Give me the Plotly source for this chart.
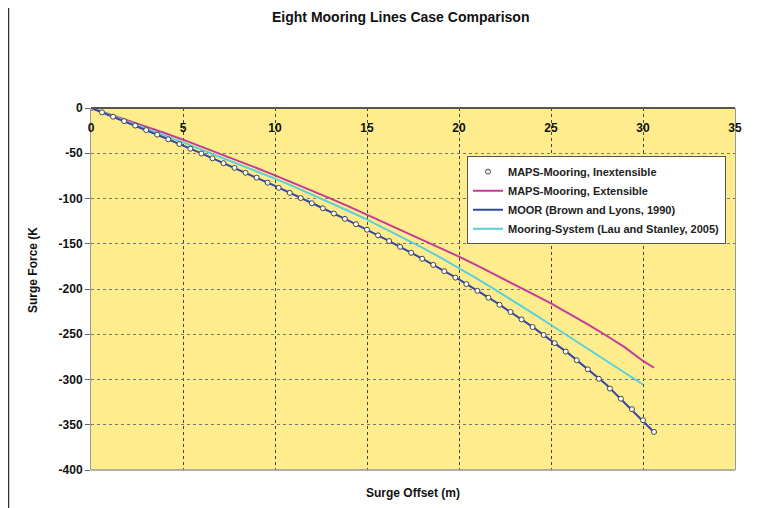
import plotly.graph_objects as go

# ---------------- data ----------------
inext_x = [0, 0.6, 1.2, 1.8, 2.4, 3.0, 3.6, 4.2, 4.8, 5.4, 6.0, 6.6, 7.2, 7.8, 8.4, 9.0, 9.6,
           10.2, 10.8, 11.4, 12.0, 12.6, 13.2, 13.8, 14.4, 15.0, 15.6, 16.2, 16.8, 17.4, 18.0,
           18.6, 19.2, 19.8, 20.4, 21.0, 21.6, 22.2, 22.8, 23.4, 24.0, 24.6, 25.2, 25.8, 26.4,
           27.0, 27.6, 28.2, 28.8, 29.4, 30.0, 30.6]
inext_y = [0, -4.8, -9.6, -14.5, -19.4, -24.4, -29.4, -34.6, -39.8, -45.0, -50.3, -55.6, -61.0,
           -66.2, -71.6, -77.0, -82.5, -88.2, -93.8, -99.5, -105.2, -110.8, -116.6, -122.5,
           -128.4, -134.5, -140.7, -147.0, -153.4, -160.0, -166.6, -173.4, -180.3, -187.4,
           -194.6, -202.0, -209.6, -217.4, -225.4, -233.6, -242.0, -250.8, -259.8, -269.2,
           -278.8, -288.8, -299.2, -310.0, -321.2, -332.8, -345.0, -358.0]

ext_x = [0, 1, 2, 3, 4, 5, 6, 7, 8, 9, 10, 11, 12, 13, 14, 15, 16, 17, 18, 19, 20, 21, 22, 23,
         24, 25, 26, 27, 28, 29, 30, 30.6]
ext_y = [0, -6.8, -13.6, -20.5, -27.6, -35.0, -42.7, -50.5, -58.3, -66.3, -74.5, -82.8, -91.3,
         -99.9, -108.7, -117.8, -126.9, -136.1, -145.3, -154.6, -164.2, -174.2, -184.4, -194.8,
         -205.3, -216.0, -227.2, -239.0, -251.4, -264.2, -279.5, -287.0]

moor_x = [0, 2, 4, 6, 8, 10, 12, 14, 16, 18, 20, 22, 24, 26, 28, 30, 30.6]
moor_y = [0, -16.2, -32.9, -50.2, -67.9, -86.1, -105.0, -124.4, -145.0, -166.4, -189.4,
          -214.6, -241.8, -272.0, -305.5, -345.3, -358.2]

lau_x = [0, 1, 2, 3, 4, 5, 6, 7, 8, 9, 10, 11, 12, 13, 14, 15, 16, 17, 18, 19, 20, 21, 22, 23,
         24, 25, 26, 27, 28, 29, 30]
lau_y = [0, -7.4, -14.9, -22.5, -30.2, -38.0, -45.9, -53.8, -61.8, -69.8, -78.0, -86.6, -95.4,
         -104.4, -113.8, -123.4, -133.4, -143.7, -154.3, -165.3, -176.8, -188.9, -201.2, -213.7,
         -226.6, -239.8, -252.8, -265.8, -278.8, -292.0, -305.5]

x_ticks = [0, 5, 10, 15, 20, 25, 30, 35]
y_ticks = [0, -50, -100, -150, -200, -250, -300, -350, -400]

names = ["MAPS-Mooring, Inextensible", "MAPS-Mooring, Extensible",
         "MOOR (Brown and Lyons, 1990)", "Mooring-System (Lau and Stanley, 2005)"]

FONT = "Liberation Sans, Arial, sans-serif"

fig = go.Figure()
fig.add_trace(go.Scatter(x=ext_x, y=ext_y, mode="lines", name=f"<b>{names[1]}</b>",
                         line=dict(color="#C53B98", width=2), legendrank=2))
fig.add_trace(go.Scatter(x=lau_x, y=lau_y, mode="lines", name=f"<b>{names[3]}</b>",
                         line=dict(color="#5BCFDB", width=2), legendrank=4))
fig.add_trace(go.Scatter(x=moor_x, y=moor_y, mode="lines", name=f"<b>{names[2]}</b>",
                         line=dict(color="#3348A8", width=2), legendrank=3))
fig.add_trace(go.Scatter(x=inext_x, y=inext_y, mode="markers", name=f"<b>{names[0]}</b>",
                         marker=dict(symbol="circle", size=5, color="white",
                                     line=dict(color="#444444", width=1)), legendrank=1))

# the page body adds an 8px offset, so the figure is 8px smaller and margins shifted
OFF = 8
W, H = 757 - OFF, 508 - OFF
L, T = 91 - OFF, 108 - OFF
PW, PH = 644, 362

fig.update_layout(
    width=W, height=H,
    margin=dict(l=L, r=W - L - PW, t=T, b=H - T - PH),
    paper_bgcolor="white",
    plot_bgcolor="#FFEC8C",
    font=dict(family=FONT, size=12, color="#111111"),
    showlegend=True,
    legend=dict(x=(467 - 91) / PW, y=0.867, xanchor="left", yanchor="top",
                bgcolor="white", bordercolor="#555555", borderwidth=1,
                font=dict(family=FONT, size=11, color="#222222"),
                tracegroupgap=0, itemwidth=30),
    xaxis=dict(range=[0, 35], tickvals=x_ticks, ticktext=[f"<b>{v}</b>" for v in x_ticks],
               anchor="free", position=1, side="bottom", ticks="", ticklabelstandoff=9,
               showgrid=True, gridcolor="#444444", griddash="dot", gridwidth=1,
               showline=True, linecolor="#555555", linewidth=1.5, mirror=False,
               zeroline=False, tickfont=dict(size=12, color="#111111")),
    yaxis=dict(range=[-400, 0], tickvals=y_ticks, ticktext=[f"<b>{v}</b>" for v in y_ticks],
               ticks="outside", ticklen=5, tickcolor="#666666",
               showgrid=True, gridcolor="#777777", griddash="dot", gridwidth=1,
               showline=True, linecolor="#999999", linewidth=1, mirror=True,
               zeroline=False, tickfont=dict(size=12, color="#111111")),
    annotations=[
        dict(text="<b>Eight Mooring Lines Case Comparison</b>", xref="paper", yref="paper",
             x=(400 - 91) / PW, y=(470 - 17) / PH, xanchor="center", yanchor="middle",
             showarrow=False, font=dict(size=14, color="#111111")),
        dict(text="<b>Surge Offset (m)</b>", xref="paper", yref="paper",
             x=(413 - 91) / PW, y=(470 - 493) / PH, xanchor="center", yanchor="middle",
             showarrow=False, font=dict(size=12, color="#111111")),
        dict(text="<b>Surge Force (K</b>", xref="paper", yref="paper", textangle=-90,
             x=(33 - 91) / PW, y=(470 - 270) / PH, xanchor="center", yanchor="middle",
             showarrow=False, font=dict(size=12, color="#111111")),
    ],
    shapes=[
        dict(type="line", xref="paper", yref="paper", x0=(8.5 - 91) / PW, x1=(8.5 - 91) / PW,
             y0=(470 - 8) / PH, y1=(470 - 510) / PH, line=dict(color="#333333", width=1.5)),
        dict(type="line", xref="paper", yref="paper", x0=0, x1=1, y0=0, y1=0,
             line=dict(color="#999999", width=1.5)),
    ],
)

fig.write_html("out.html")
